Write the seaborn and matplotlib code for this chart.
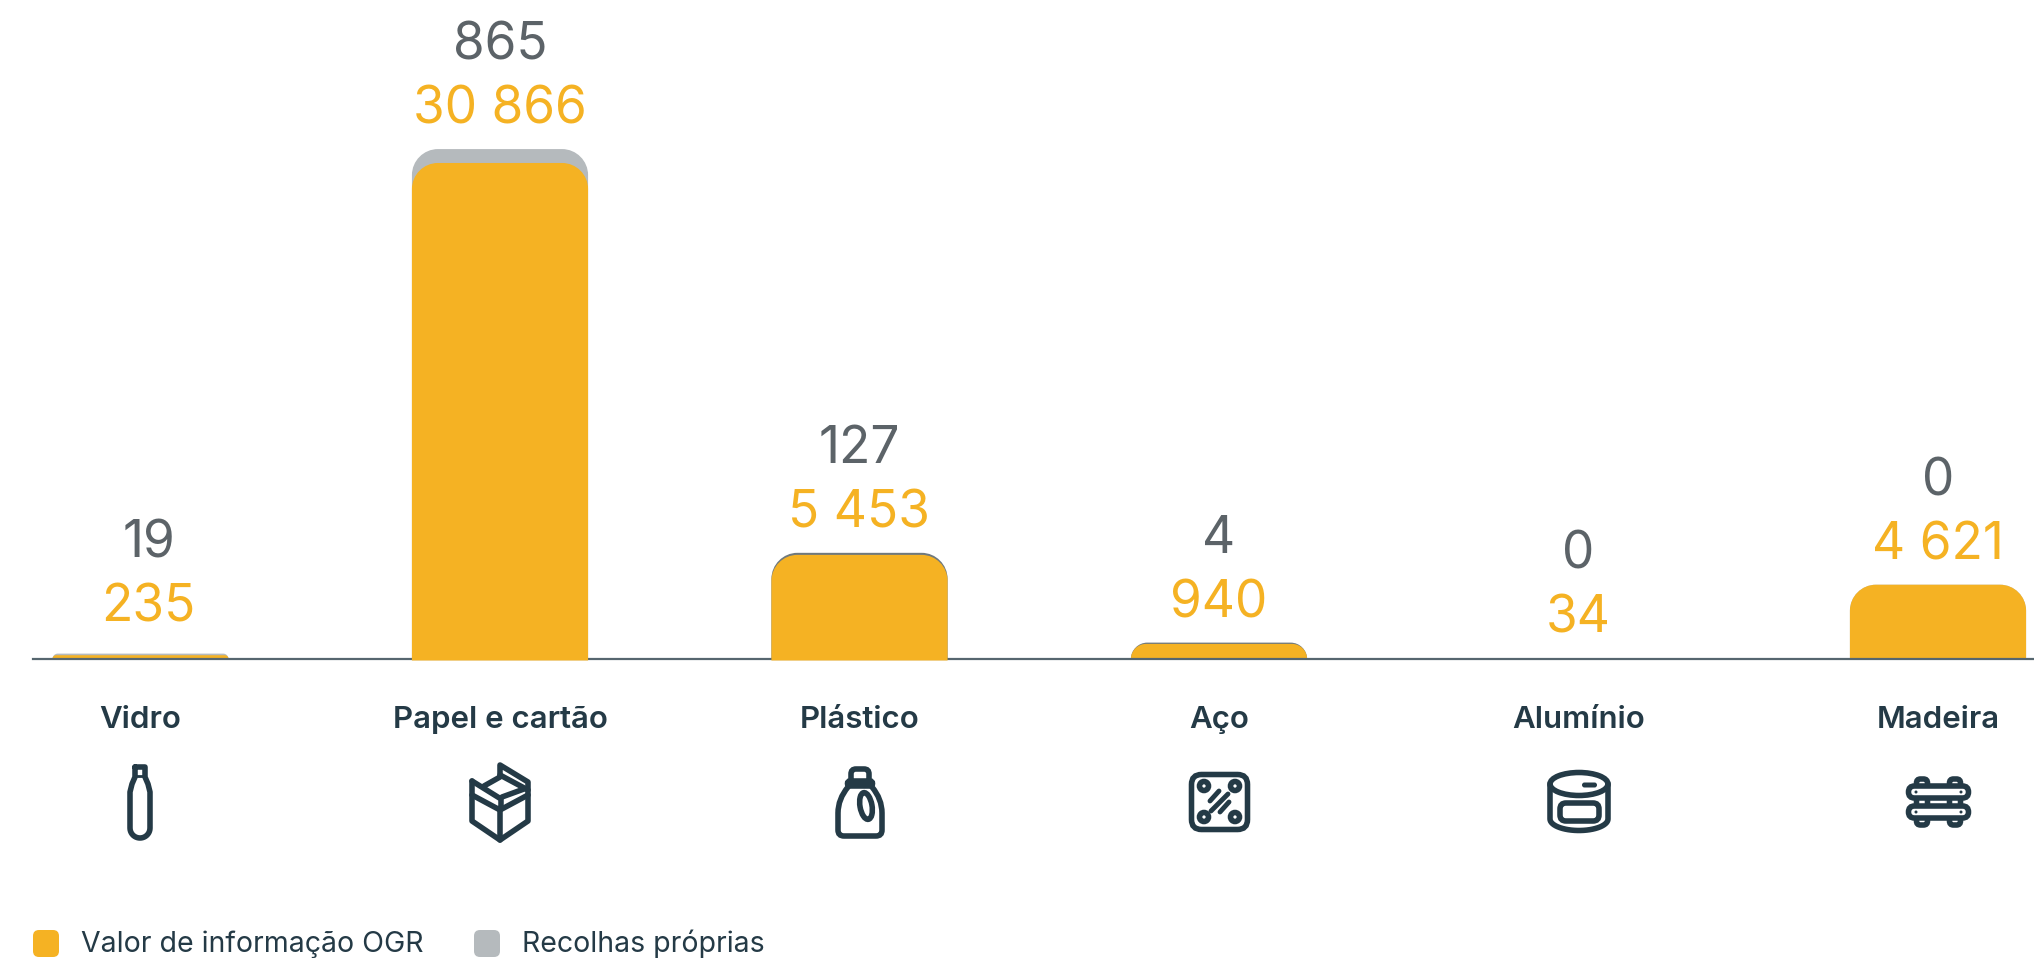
import numpy as np
import pandas as pd
import seaborn as sns
import matplotlib.pyplot as plt
from matplotlib.path import Path
from matplotlib.patches import PathPatch, FancyBboxPatch, Ellipse, Circle

categories = ["Vidro", "Papel e cartão", "Plástico", "Aço", "Alumínio", "Madeira"]
ogr_values = [235, 30866, 5453, 940, 34, 4621]
own_values = [19, 865, 127, 4, 0, 0]
# drawn heights, they differ from the printed labels in places
ogr_heights = [235, 30866, 6480, 940, 34, 4621]
own_heights = [100, 865, 127, 80, 0, 0]
legend_labels = ["Valor de informação OGR", "Recolhas próprias"]

ORANGE = "#F5B223"
GREY = "#B5BABD"
SLATE = "#6F797E"
GREY_TEXT = "#5C6368"
DARK = "#243A46"
FONT = ["Inter", "DejaVu Sans"]

W, H = 2034, 958
BASE_Y = 659
PX_PER_UNIT = 0.01607
PX_PER_CAT = 359.5

sns.set_theme(style="white")
plt.rcParams["font.family"] = FONT

fig = plt.figure(figsize=(W / 100, H / 100), dpi=100, facecolor="white")
ax = fig.add_axes([33 / W, 1 - BASE_Y / H, (W - 33) / W, BASE_Y / H])

df = pd.DataFrame({
    "category": categories,
    "total": np.array(ogr_heights) + np.array(own_heights),
    "ogr": ogr_heights,
})
back_colors = [GREY, GREY, SLATE, SLATE, GREY, GREY]
sns.barplot(data=df, x="category", y="total", hue="category", palette=back_colors, legend=False,
            width=0.49, saturation=1, ax=ax, zorder=2)
sns.barplot(data=df, x="category", y="ogr", color=ORANGE, width=0.49, saturation=1, ax=ax, zorder=3)

ax.set_xlim((33 - 140.5) / PX_PER_CAT, (W - 140.5) / PX_PER_CAT)
ax.set_ylim(0, BASE_Y / PX_PER_UNIT)
ax.set_xlabel("")
ax.set_ylabel("")
ax.set_yticks([])
ax.set_xticks([])
sns.despine(ax=ax, left=True)
ax.spines["bottom"].set_color("#56666F")
ax.spines["bottom"].set_linewidth(1.6)
ax.spines["bottom"].set_zorder(5)


def round_top(patch, radius_px):
    # swap the square bar for one with rounded upper corners
    x0, w = patch.get_x(), patch.get_width()
    h = patch.get_height()
    patch.set_visible(False)
    if h <= 0:
        return
    r = min(radius_px, h * PX_PER_UNIT)
    rx, ry = r / PX_PER_CAT, r / PX_PER_UNIT
    kx, ky = 0.45 * rx, 0.45 * ry
    x1 = x0 + w
    # the two tall bars sit over the axis line, the others under it
    over = h * PX_PER_UNIT > 80 and abs(x0 + w / 2 - 5) > 0.1 and patch.get_zorder() == 3
    y0 = -1.5 / PX_PER_UNIT if over else 0
    verts = [(x0, y0), (x0, h - ry), (x0, h - ky), (x0 + kx, h), (x0 + rx, h), (x1 - rx, h),
             (x1 - kx, h), (x1, h - ky), (x1, h - ry), (x1, y0), (x0, y0)]
    codes = [Path.MOVETO, Path.LINETO, Path.CURVE4, Path.CURVE4, Path.CURVE4, Path.LINETO,
             Path.CURVE4, Path.CURVE4, Path.CURVE4, Path.LINETO, Path.CLOSEPOLY]
    ax.add_patch(PathPatch(Path(verts, codes), fc=patch.get_facecolor(), ec="none",
                           zorder=6 if over else patch.get_zorder(), clip_on=False))


for p in list(ax.patches):
    round_top(p, 26)

# value labels above each stack
for i, (o, g, h, gh) in enumerate(zip(ogr_values, own_values, ogr_heights, own_heights)):
    top = h + gh
    pad = 46 if i == 0 else 39
    dx = 8 * 0.72 if i == 0 else 0
    ax.annotate(f"{o:,}".replace(",", " "), (i, top), xytext=(dx, pad * 0.72), textcoords="offset points",
                ha="center", va="center", color=ORANGE, fontsize=37, fontweight="normal", annotation_clip=False)
    ax.annotate(str(g), (i, top), xytext=(dx, (pad + 64) * 0.72), textcoords="offset points",
                ha="center", va="center", color=GREY_TEXT, fontsize=37, fontweight="normal", annotation_clip=False)

# overlay in pixel coordinates for category names, icons and legend
ov = fig.add_axes([0, 0, 1, 1], facecolor="none")
ov.set_xlim(0, W)
ov.set_ylim(H, 0)
ov.axis("off")

for i, name in enumerate(categories):
    ov.text(140.5 + PX_PER_CAT * i, 720, name, ha="center", va="center", color=DARK, fontsize=22.5, fontweight="semibold")

LW = 4.0


def line(pts, lw=LW, close=False):
    xs, ys = zip(*pts)
    if close:
        xs, ys = xs + xs[:1], ys + ys[:1]
    ov.plot(xs, ys, color=DARK, lw=lw, solid_capstyle="round", solid_joinstyle="round")


def rrect(x, y, w, h, r, lw=LW, fc="none"):
    ov.add_patch(FancyBboxPatch((x + r, y + r), w - 2 * r, h - 2 * r, boxstyle=f"round,pad={r},rounding_size={r}",
                                fc=fc, ec=DARK if lw else "none", lw=lw))


# Vidro: bottle
t = np.linspace(np.pi, 0, 20)
bottle = [(135, 767), (135, 777), (132, 784), (130, 792), (130, 828)]
bottle += [(140 + 10 * np.cos(a), 828 + 10 * np.sin(a)) for a in t]
bottle += [(150, 792), (148, 784), (145, 777), (145, 767)]
line(bottle, close=True)
line([(135, 776), (145, 776)], lw=2)

# Papel e cartão: open box
line([(472, 781), (472, 821), (500, 840), (528, 821), (528, 782), (500, 765), (500, 776)])
line([(500, 808), (500, 840)])
line([(472, 781), (501, 799), (501, 806)])
line([(472, 795), (500, 810), (528, 795)])
line([(500, 775), (528, 790)])
line([(500, 777), (484, 786)])
line([(502, 797), (524, 789)])

# Plástico: detergent bottle
rrect(851, 769, 18, 14, 5)
rrect(847.5, 781, 25, 5, 2.5)
body = [(848, 787), (838, 799), (838, 813), (838, 830), (838, 836), (844, 836), (876, 836),
        (882, 836), (882, 830), (882, 813), (882, 799), (872, 787)]
body_codes = [Path.MOVETO, Path.CURVE3, Path.CURVE3, Path.LINETO, Path.CURVE3, Path.CURVE3, Path.LINETO,
              Path.CURVE3, Path.CURVE3, Path.LINETO, Path.CURVE3, Path.CURVE3]
ov.add_patch(PathPatch(Path(body, body_codes), fc="none", ec=DARK, lw=LW, capstyle="round"))
ov.add_patch(Ellipse((866, 806), 12, 27, angle=-10, fc="none", ec=DARK, lw=LW))

# Aço: plate with bolts
rrect(1191.5, 774.5, 56, 55, 10)
for cx, cy in [(1204, 786), (1235, 786), (1204, 817), (1235, 817)]:
    ov.add_patch(Circle((cx, cy), 4.5, fc="white", ec=DARK, lw=LW))
line([(1210, 801), (1219, 791)], lw=3.5)
line([(1211, 811), (1228, 794)], lw=3.5)
line([(1220, 812), (1229, 802)], lw=3.5)

# Alumínio: tin can
ov.add_patch(Ellipse((1579, 784), 58, 23, fc="none", ec=DARK, lw=LW))
arc = [(1579 + 29 * np.cos(a), 819 + 11.5 * np.sin(a)) for a in np.linspace(np.pi, 0, 30)]
line([(1550, 784)] + arc + [(1608, 784)])
rrect(1560, 803, 39, 18, 6)
rrect(1582, 782.5, 15, 5, 2.5, lw=0, fc=DARK)

# Madeira: fence planks
for x in (1916.5, 1949.5):
    rrect(x, 779, 11, 46, 4, lw=4)
for y in (786, 806):
    rrect(1908.5, y, 60, 12, 6, lw=LW, fc="white")
    for x in (1916, 1961):
        ov.add_patch(Circle((x, y + 6), 1.5, fc=DARK, ec="none"))

# legend
rrect(33, 930, 26, 27, 6, lw=0, fc=ORANGE)
rrect(474, 930, 26, 27, 6, lw=0, fc=GREY)
ov.text(81, 944, legend_labels[0], ha="left", va="center", color=DARK, fontsize=20.5, fontweight="normal")
ov.text(522, 944, legend_labels[1], ha="left", va="center", color=DARK, fontsize=20.5, fontweight="normal")

fig.savefig("out.png", dpi=100)
plt.close(fig)
